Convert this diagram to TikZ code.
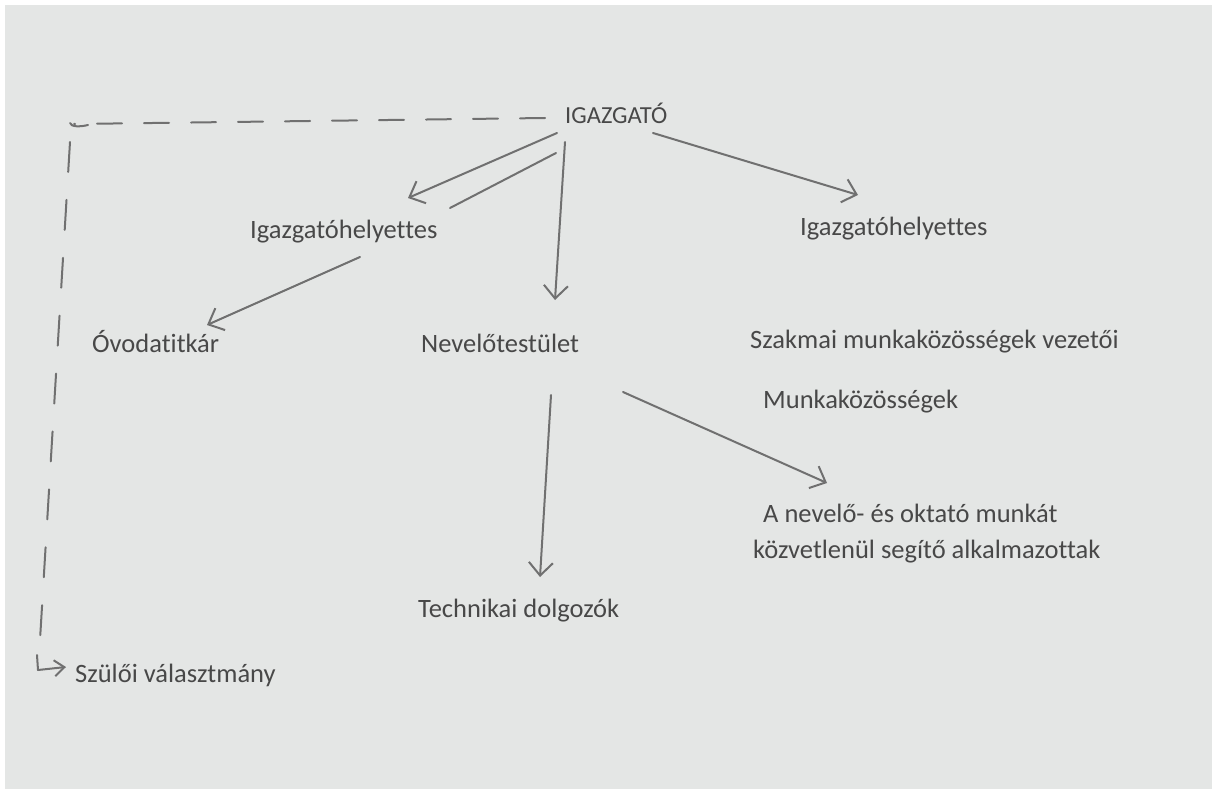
\documentclass[tikz,border=0pt]{standalone}
\usepackage{fontspec}
\setmainfont{Carlito}[Ligatures=NoCommon]
\usetikzlibrary{arrows.meta}
\definecolor{paper}{RGB}{228,230,229}
\definecolor{ink}{RGB}{72,72,72}
\definecolor{pencil}{RGB}{112,112,112}
\tikzset{
  lbl/.style={anchor=base west, inner sep=0pt, text=ink, font=\fontsize{26.5}{31}\selectfont},
  pen/.style={draw=pencil, line width=2pt, line cap=round, line join=round},
  arr/.style={pen, -{Straight Barb[length=13pt,width=24pt,line width=2pt]}},
  dsh/.style={pen, dash pattern=on 25pt off 22pt},
  dshv/.style={pen, dash pattern=on 30pt off 28pt}
}
\begin{document}
\begin{tikzpicture}[x=1pt,y=-1pt]
\useasboundingbox (0,0) rectangle (1212,789);
\fill[white] (0,0) rectangle (1212,789);
\fill[paper] (5,5) rectangle (1212,789);

% text nodes
\node[lbl, font=\fontsize{24.5}{29}\selectfont] (igazgato) at (565,124) {IGAZGATÓ};
\node[lbl] (ighL) at (250,238) {Igazgatóhelyettes};
\node[lbl] (ighR) at (800,235) {Igazgatóhelyettes};
\node[lbl] (ovoda) at (92,352) {Óvodatitkár};
\node[lbl] (nevelo) at (421,352) {Nevelőtestület};
\node[lbl] (szakmai) at (750,348) {Szakmai munkaközösségek vezetői};
\node[lbl] (munka) at (763,408) {Munkaközösségek};
\node[lbl] (segito1) at (763,522) {A nevelő- és oktató munkát};
\node[lbl] (segito2) at (753,558) {közvetlenül segítő alkalmazottak};
\node[lbl] (technikai) at (418,617) {Technikai dolgozók};
\node[lbl] (szuloi) at (75,682) {Szülői választmány};

% connector end points
\coordinate (a1s) at (557,133);
\coordinate (a1e) at (408,198);
\coordinate (a2s) at (556,153);
\coordinate (a2e) at (450,208);
\coordinate (a3s) at (565,142);
\coordinate (a3e) at (555,300);
\coordinate (a4s) at (653,133);
\coordinate (a4e) at (858,195);
\coordinate (a5s) at (360,257);
\coordinate (a5e) at (207,325);
\coordinate (a6s) at (551,395);
\coordinate (a6e) at (540,577);
\coordinate (a7s) at (623,392);
\coordinate (a7e) at (827,483);
\coordinate (dh1) at (545,118);
\coordinate (dh2) at (74,124);
\coordinate (dv1) at (70,142);
\coordinate (dv2) at (40,640);
\coordinate (lv) at (37,655);
\coordinate (lc) at (38,670);
\coordinate (le) at (66,667);

% connectors
\draw[arr] (a1s) -- (a1e);
\draw[pen] (a2s) -- (a2e);
\draw[arr] (a3s) -- (a3e);
\draw[arr] (a4s) -- (a4e);
\draw[arr] (a5s) -- (a5e);
\draw[arr] (a6s) -- (a6e);
\draw[arr] (a7s) -- (a7e);
\draw[dsh] (dh1) -- (dh2);
\draw[pen] (70,123) .. controls (71,127) and (80,127) .. (88,125);
\draw[dshv] (dv1) -- (dv2);
\draw[pen, -{Straight Barb[length=10pt,width=16pt,line width=2pt]}] (lv) -- (lc) -- (le);
\end{tikzpicture}
\end{document}
